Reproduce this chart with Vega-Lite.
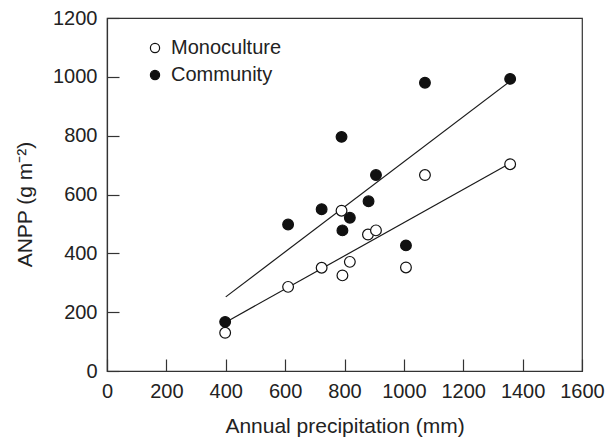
{
  "$schema": "https://vega.github.io/schema/vega-lite/v6.json",
  "autosize": "none",
  "width": 475,
  "height": 353,
  "padding": {"left": 107, "top": 18, "right": 33, "bottom": 66},
  "background": "white",
  "config": {
    "font": "Liberation Sans",
    "view": {"stroke": "#333", "strokeWidth": 1.2},
    "axis": {
      "grid": false,
      "domainColor": "#333",
      "domainWidth": 1.2,
      "tickColor": "#333",
      "tickWidth": 1.2,
      "tickSize": -12,
      "labelFontSize": 20,
      "labelColor": "#222",
      "titleFontSize": 21,
      "titleFontWeight": "normal",
      "titleColor": "#222",
      "labelPadding": 22,
      "labelOverlap": false,
      "labelFlush": false,
      "format": "d"
    }
  },
  "datasets": {
    "points": [
      {"group": "Community", "precip": 398, "anpp": 167},
      {"group": "Community", "precip": 610, "anpp": 498},
      {"group": "Community", "precip": 723, "anpp": 550},
      {"group": "Community", "precip": 790, "anpp": 796},
      {"group": "Community", "precip": 793, "anpp": 478},
      {"group": "Community", "precip": 818, "anpp": 521},
      {"group": "Community", "precip": 881, "anpp": 577},
      {"group": "Community", "precip": 906, "anpp": 666},
      {"group": "Community", "precip": 1007, "anpp": 427},
      {"group": "Community", "precip": 1071, "anpp": 980},
      {"group": "Community", "precip": 1358, "anpp": 993},
      {"group": "Monoculture", "precip": 398, "anpp": 130},
      {"group": "Monoculture", "precip": 610, "anpp": 286},
      {"group": "Monoculture", "precip": 723, "anpp": 351},
      {"group": "Monoculture", "precip": 790, "anpp": 545},
      {"group": "Monoculture", "precip": 793, "anpp": 325},
      {"group": "Monoculture", "precip": 818, "anpp": 371},
      {"group": "Monoculture", "precip": 879, "anpp": 464},
      {"group": "Monoculture", "precip": 906, "anpp": 478},
      {"group": "Monoculture", "precip": 1007, "anpp": 352},
      {"group": "Monoculture", "precip": 1071, "anpp": 666},
      {"group": "Monoculture", "precip": 1358, "anpp": 703}
    ],
    "lines": [
      {"group": "Community", "precip": 400, "anpp": 252},
      {"group": "Community", "precip": 1358, "anpp": 985},
      {"group": "Monoculture", "precip": 400, "anpp": 166},
      {"group": "Monoculture", "precip": 1358, "anpp": 706}
    ]
  },
  "layer": [
    {
      "data": {"name": "lines"},
      "mark": {"type": "line", "color": "#1a1a1a", "strokeWidth": 1.2},
      "encoding": {
        "x": {"field": "precip", "type": "quantitative", "scale": {"domain": [0, 1600], "nice": false},
              "axis": {"values": [0, 200, 400, 600, 800, 1000, 1200, 1400, 1600], "title": "Annual precipitation (mm)", "titleBaseline": "alphabetic", "titleY": 61}},
        "y": {"field": "anpp", "type": "quantitative", "scale": {"domain": [0, 1200], "nice": false},
              "axis": {"values": [0, 200, 400, 600, 800, 1000, 1200], "title": "ANPP (g m⁻²)", "titleX": -82, "titleY": 186, "titleBaseline": "middle", "titleAlign": "center", "titleAngle": -90}},
        "detail": {"field": "group"}
      }
    },
    {
      "data": {"name": "points"},
      "mark": {"type": "point", "shape": "circle", "filled": true, "stroke": "#111", "strokeWidth": 1.2, "size": 115, "opacity": 1},
      "encoding": {
        "x": {"field": "precip", "type": "quantitative"},
        "y": {"field": "anpp", "type": "quantitative"},
        "fill": {"field": "group", "type": "nominal",
                 "scale": {"domain": ["Monoculture", "Community"], "range": ["white", "#111"]},
                 "legend": {"title": null, "orient": "none", "legendX": 38, "legendY": 20, "padding": 0,
                            "symbolType": "circle", "symbolSize": 85, "symbolStrokeColor": "#111", "symbolStrokeWidth": 1.2,
                            "symbolOpacity": 1, "labelFontSize": 20, "labelColor": "#222", "labelOffset": 6, "rowPadding": 7}}
      }
    }
  ]
}
